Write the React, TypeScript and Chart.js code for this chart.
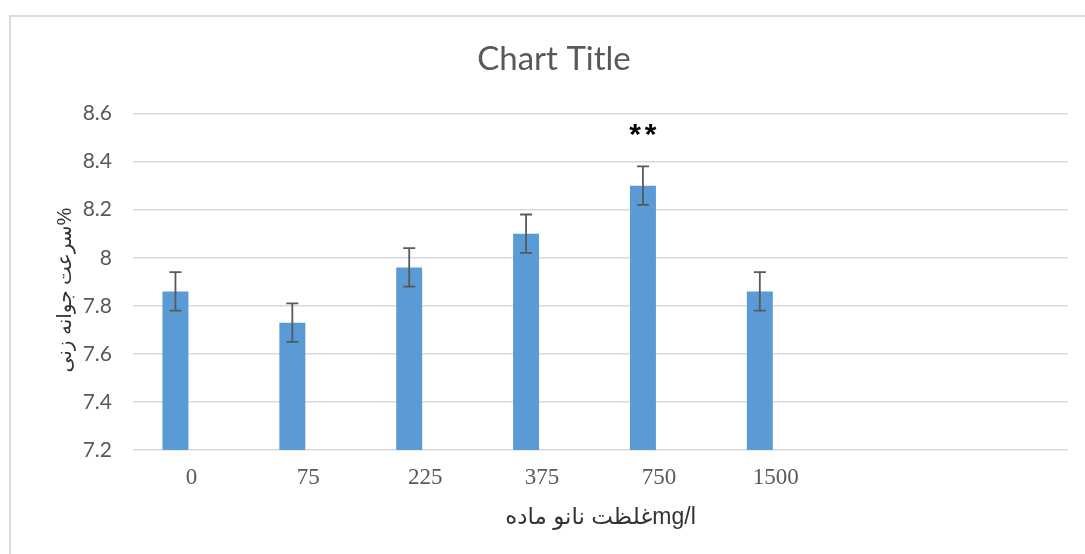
import React, { useEffect, useRef } from "react";
import { Chart, registerables } from "chart.js";

Chart.register(...registerables);

const categories = ["0", "75", "225", "375", "750", "1500", "", ""];
const values = [7.86, 7.73, 7.96, 8.1, 8.3, 7.86, null, null];
const emptySeries = [null, null, null, null, null, null, null, null];
const errors = [0.08, 0.08, 0.08, 0.08, 0.08, 0.08, null, null];
const marks = ["", "", "", "", "**", "", "", ""];
const yMin = 7.2;
const yMax = 8.6;
const yStep = 0.2;

const chartTitle = "Chart Title";
const xTitle = "غلظت نانو مادهmg/l";
const yTitle = "سرعت جوانه زنی%   ";

const errorBarPlugin = {
  id: "errorBars",
  afterDatasetsDraw(chart: any) {
    const { ctx } = chart;
    const meta = chart.getDatasetMeta(0);
    const y = chart.scales.y;
    ctx.save();
    meta.data.forEach((bar: any, i: number) => {
      const v = values[i];
      const e = errors[i];
      if (v == null || e == null) return;
      const x = bar.x;
      const top = y.getPixelForValue(v + e);
      const bot = y.getPixelForValue(v - e);
      ctx.strokeStyle = "#595959";
      ctx.lineWidth = 1.8;
      ctx.beginPath();
      ctx.moveTo(x, top);
      ctx.lineTo(x, bot);
      ctx.moveTo(x - 6, top);
      ctx.lineTo(x + 6, top);
      ctx.moveTo(x - 6, bot);
      ctx.lineTo(x + 6, bot);
      ctx.stroke();
      const mark = marks[i];
      if (mark) {
        ctx.fillStyle = "#000000";
        ctx.font = "bold 30px 'Liberation Sans', Arial, sans-serif";
        ctx.textAlign = "center";
        ctx.textBaseline = "alphabetic";
        const spacing = 15.5;
        const chars = mark.split("");
        chars.forEach((c, k) => {
          const cx = x + (k - (chars.length - 1) / 2) * spacing;
          ctx.fillText(c, cx, top - 22);
        });
      }
    });
    ctx.restore();
  },
};

export default function App() {
  const canvasRef = useRef<HTMLCanvasElement | null>(null);

  useEffect(() => {
    if (!canvasRef.current) return;
    const chart = new Chart(canvasRef.current, {
      type: "bar",
      data: {
        labels: categories,
        datasets: [
          {
            data: values as any,
            backgroundColor: "#5b9bd5",
            borderWidth: 0,
            categoryPercentage: 0.547,
            barPercentage: 0.8125,
          },
          {
            data: emptySeries as any,
            backgroundColor: "#ed7d31",
            borderWidth: 0,
            categoryPercentage: 0.547,
            barPercentage: 0.8125,
          },
        ],
      },
      options: {
        animation: false,
        responsive: false,
        devicePixelRatio: 1,
        layout: { padding: { left: 40, right: 17, top: 0, bottom: 0 } },
        plugins: {
          legend: { display: false },
          tooltip: { enabled: false },
          title: {
            display: true,
            text: chartTitle,
            color: "#595959",
            font: { family: "Lato, 'Open Sans', sans-serif", size: 33, weight: "normal" },
            padding: { top: 40, bottom: 34 },
          },
        },
        scales: {
          x: {
            grid: { display: false, drawTicks: false },
            border: { display: false },
            ticks: {
              color: "#595959",
              font: { family: "'Liberation Serif', 'Times New Roman', serif", size: 23 },
              padding: 14,
              maxRotation: 0,
              autoSkip: false,
            },
            title: {
              display: true,
              text: xTitle,
              color: "#333333",
              font: { family: "'Liberation Sans', Arial, 'DejaVu Sans', sans-serif", size: 23 },
              padding: { top: 0, bottom: 23 },
            },
            afterFit: (scale: any) => {
              scale.height = 104;
            },
          },
          y: {
            min: yMin,
            max: yMax,
            grid: { color: "#d9d9d9", lineWidth: 1.5, drawTicks: false },
            border: { display: false },
            ticks: {
              stepSize: yStep,
              color: "#595959",
              font: { family: "Lato, 'Open Sans', sans-serif", size: 21 },
              padding: 21,
              callback: (v: any) => String(Number(Number(v).toFixed(1))),
            },
            title: {
              display: true,
              text: yTitle,
              color: "#333333",
              font: { family: "'Liberation Sans', Arial, 'DejaVu Sans', sans-serif", size: 20 },
              padding: { top: 13, bottom: 0 },
            },
            afterFit: (scale: any) => {
              scale.width = 93;
            },
          },
        },
      },
      plugins: [errorBarPlugin],
    });
    return () => chart.destroy();
  }, []);

  return (
    <div
      style={{
        position: "fixed",
        left: 0,
        top: 0,
        width: 1085,
        height: 554,
        overflow: "hidden",
        background: "#ffffff",
      }}
    >
      <div
        style={{
          position: "absolute",
          left: 9,
          top: 15,
          width: 1200,
          height: 700,
          border: "2px solid #dcdcdc",
          boxSizing: "border-box",
        }}
      />
      <canvas
        ref={canvasRef}
        width={1085}
        height={554}
        style={{ position: "absolute", left: 0, top: 0, width: 1085, height: 554 }}
      />
    </div>
  );
}
